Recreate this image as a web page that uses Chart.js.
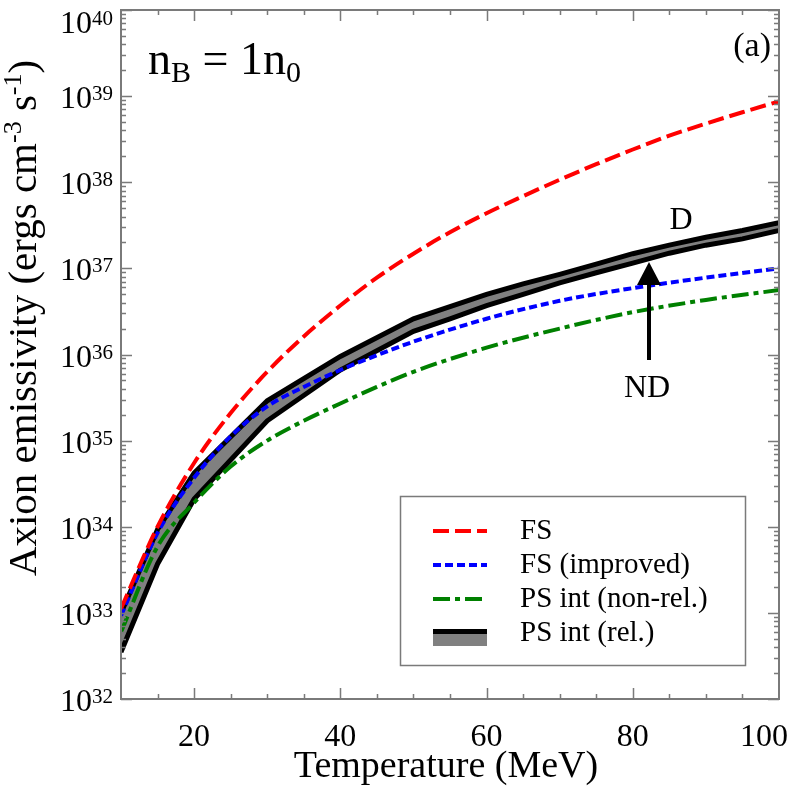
<!DOCTYPE html>
<html>
<head>
<meta charset="utf-8">
<script src="https://cdn.jsdelivr.net/npm/chart.js@4/dist/chart.umd.min.js"></script>
<style>
  html, body { margin: 0; padding: 0; background: #fff; }
  #wrap { width: 789px; height: 789px; }
</style>
</head>
<body>
<div id="wrap"><canvas id="myChart" width="789" height="789"></canvas></div>
<script>
// --- data (emissivity in ergs cm^-3 s^-1) ---
const tempFS = [10, 15, 20, 25, 30, 35, 40, 45, 50, 55, 60, 65, 70, 75, 80, 85, 90, 95, 100];
const fsValues = [1.12e33, 1.0e34, 5.5e34, 2.09e35, 6.3e35, 1.62e36, 3.7e36, 7.8e36, 1.48e37, 2.63e37,
                  4.37e37, 6.9e37, 1.07e38, 1.62e38, 2.4e38, 3.47e38, 4.8e38, 6.5e38, 8.7e38];

const tempImproved = [10, 15, 20, 25, 30, 35, 40, 45, 50, 60, 70, 80, 90, 100];
const fsImprovedValues = [9.3e32, 8.5e33, 3.7e34, 1.12e35, 2.5e35, 4.2e35, 6.6e35, 9.8e35, 1.41e36,
                          2.6e36, 4.2e36, 5.9e36, 7.8e36, 1.0e37];

const tempNonRel = [10, 15, 20, 25, 30, 35, 40, 45, 50, 60, 70, 80, 90, 100];
const psNonRelValues = [6.0e32, 5.9e33, 1.9e34, 5.0e34, 1.0e35, 1.7e35, 2.7e35, 4.2e35, 6.3e35,
                        1.2e36, 2.0e36, 3.1e36, 4.3e36, 5.6e36];

const tempRel = [10, 15, 20, 30, 40, 50, 55, 60, 65, 70, 75, 80, 85, 90, 95, 100];
const psRelUpper = [1.0e33, 9.3e33, 4.2e34, 2.9e35, 9.5e35, 2.6e36, 3.6e36, 5.0e36, 6.6e36, 8.5e36,
                    1.12e37, 1.48e37, 1.86e37, 2.3e37, 2.75e37, 3.4e37];
const psRelLower = [3.5e32, 3.7e33, 2.1e34, 1.7e35, 6.6e35, 1.86e36, 2.6e36, 3.7e36, 5.0e36, 6.8e36,
                    8.9e36, 1.15e37, 1.5e37, 1.86e37, 2.2e37, 2.75e37];

const xMajorTicks = [20, 40, 60, 80, 100];
const yDecades = [32, 33, 34, 35, 36, 37, 38, 39, 40];

const legendLabels = ['FS', 'FS (improved)', 'PS int (non-rel.)', 'PS int (rel.)'];

const SERIF = '"Liberation Serif", "Times New Roman", serif';
const FRAME = '#7a7a7a';

function pts(xs, ys) {
    return xs.map((x, i) => ({ x: x, y: ys[i] }));
}

// --- frame, inward ticks, tick labels, titles, legend, annotations ---
const decorPlugin = {
    id: 'decor',
    afterDatasetsDraw(chart) {
        const ctx = chart.ctx;
        const a = chart.chartArea;
        const xs = chart.scales.x;
        const ys = chart.scales.y;
        ctx.save();

        // frame
        ctx.strokeStyle = FRAME;
        ctx.lineWidth = 2;
        ctx.strokeRect(a.left, a.top, a.right - a.left, a.bottom - a.top);

        // x ticks (bottom + top), minor every 5
        ctx.lineWidth = 1.5;
        for (let v = 15; v < 100; v += 5) {
            const px = Math.round(xs.getPixelForValue(v)) + 0.5;
            const len = (v % 20 === 0) ? 11 : 5;
            ctx.beginPath();
            ctx.moveTo(px, a.bottom); ctx.lineTo(px, a.bottom - len);
            ctx.moveTo(px, a.top); ctx.lineTo(px, a.top + len);
            ctx.stroke();
        }
        // y ticks (left + right)
        yDecades.forEach(d => {
            for (let m = 1; m <= 9; m++) {
                if (d === 40 && m > 1) break;
                const py = Math.round(ys.getPixelForValue(m * Math.pow(10, d))) + 0.5;
                const len = (m === 1) ? 11 : 5;
                ctx.beginPath();
                ctx.moveTo(a.left, py); ctx.lineTo(a.left + len, py);
                ctx.moveTo(a.right, py); ctx.lineTo(a.right - len, py);
                ctx.stroke();
            }
        });

        ctx.fillStyle = '#000';
        // y tick labels 10^n
        yDecades.forEach(d => {
            const py = ys.getPixelForValue(Math.pow(10, d));
            const base = Math.max(py + 12, 33);
            ctx.font = '32px ' + SERIF;
            ctx.textAlign = 'left';
            ctx.textBaseline = 'alphabetic';
            ctx.fillText('10', 60, base);
            const w = ctx.measureText('10').width;
            ctx.font = '21px ' + SERIF;
            ctx.fillText(String(d), 60 + w, base - 8);
        });

        // x tick labels
        ctx.font = '32px ' + SERIF;
        ctx.textAlign = 'center';
        xMajorTicks.forEach(v => {
            const t = String(v);
            const w = ctx.measureText(t).width;
            const px = Math.min(xs.getPixelForValue(v), chart.width - 1 - w / 2);
            ctx.fillText(t, px, 746);
        });

        // x title
        ctx.font = '38px ' + SERIF;
        ctx.fillText('Temperature (MeV)', 446, 777);

        // y title with superscripts, rotated
        const parts = [
            ['Axion emissivity (ergs cm', false], ['-3', true], [' s', false], ['-1', true], [')', false]
        ];
        const bigF = '41px ' + SERIF, supF = '26px ' + SERIF;
        let total = 0;
        parts.forEach(p => {
            ctx.font = p[1] ? supF : bigF;
            total += ctx.measureText(p[0]).width;
        });
        ctx.save();
        ctx.translate(36, 318);
        ctx.rotate(-Math.PI / 2);
        ctx.textAlign = 'left';
        let cx = -total / 2;
        parts.forEach(p => {
            ctx.font = p[1] ? supF : bigF;
            ctx.fillText(p[0], cx, p[1] ? -15 : 0);
            cx += ctx.measureText(p[0]).width;
        });
        ctx.restore();

        // n_B = 1n_0
        ctx.textAlign = 'left';
        let tx = 148;
        const seq = [['n', 46, 0], ['B', 30, 8], [' = 1n', 46, 0], ['0', 30, 8]];
        seq.forEach(s => {
            ctx.font = s[1] + 'px ' + SERIF;
            ctx.fillText(s[0], tx, 74 + s[2]);
            tx += ctx.measureText(s[0]).width;
        });

        // (a)
        ctx.font = '34px ' + SERIF;
        ctx.textAlign = 'right';
        ctx.fillText('(a)', 771, 56);

        // D / ND annotations with arrow
        ctx.font = '32px ' + SERIF;
        ctx.textAlign = 'center';
        ctx.fillText('D', 681, 229);
        ctx.fillText('ND', 647, 397);
        ctx.strokeStyle = '#000';
        ctx.lineWidth = 4;
        ctx.beginPath();
        ctx.moveTo(649, 360); ctx.lineTo(649, 280);
        ctx.stroke();
        ctx.beginPath();
        ctx.moveTo(649, 262); ctx.lineTo(637, 285); ctx.lineTo(661, 285);
        ctx.closePath();
        ctx.fill();

        // legend box
        ctx.fillStyle = '#fff';
        ctx.fillRect(400, 496, 345, 169);
        ctx.strokeStyle = FRAME;
        ctx.lineWidth = 1.5;
        ctx.strokeRect(400.5, 496.5, 345, 169);
        const rows = [531, 565, 599, 633];
        const styles = chart.data.datasets;
        for (let i = 0; i < 3; i++) {
            ctx.strokeStyle = styles[i].borderColor;
            ctx.lineWidth = 4;
            ctx.setLineDash(styles[i].borderDash);
            ctx.beginPath();
            ctx.moveTo(433, rows[i]); ctx.lineTo(487, rows[i]);
            ctx.stroke();
        }
        ctx.setLineDash([]);
        ctx.fillStyle = '#808080';
        ctx.fillRect(433, 633, 54, 13);
        ctx.fillStyle = '#000';
        ctx.fillRect(433, 629, 54, 5);
        ctx.font = '29px ' + SERIF;
        ctx.textAlign = 'left';
        ctx.textBaseline = 'middle';
        legendLabels.forEach((t, i) => ctx.fillText(t, 520, rows[i]));

        ctx.restore();
    }
};

const ctx = document.getElementById('myChart');
new Chart(ctx, {
    type: 'line',
    data: {
        datasets: [
            { label: legendLabels[0], data: pts(tempFS, fsValues), borderColor: '#ff0000',
              borderWidth: 4, borderDash: [16, 6], cubicInterpolationMode: 'monotone', pointRadius: 0, fill: false },
            { label: legendLabels[1], data: pts(tempImproved, fsImprovedValues), borderColor: '#0000ff',
              borderWidth: 4, borderDash: [8, 4], cubicInterpolationMode: 'monotone', pointRadius: 0, fill: false },
            { label: legendLabels[2], data: pts(tempNonRel, psNonRelValues), borderColor: '#008000',
              borderWidth: 4, borderDash: [17, 5, 5, 5], cubicInterpolationMode: 'monotone', pointRadius: 0, fill: false },
            { label: legendLabels[3], data: pts(tempRel, psRelUpper), borderColor: '#000',
              borderWidth: 5, tension: 0, pointRadius: 0, fill: '+1', backgroundColor: '#808080' },
            { label: 'PS int (rel.) lower', data: pts(tempRel, psRelLower), borderColor: '#000',
              borderWidth: 5, tension: 0, pointRadius: 0, fill: false }
        ]
    },
    options: {
        responsive: false,
        animation: false,
        layout: { padding: { left: 121, right: 10, top: 10, bottom: 90 } },
        scales: {
            x: { type: 'linear', min: 10, max: 100, display: false },
            y: { type: 'logarithmic', min: 1e32, max: 1e40, display: false }
        },
        plugins: {
            legend: { display: false },
            tooltip: { enabled: false },
            filler: { drawTime: 'beforeDatasetsDraw' }
        }
    },
    plugins: [decorPlugin]
});
</script>
</body>
</html>
